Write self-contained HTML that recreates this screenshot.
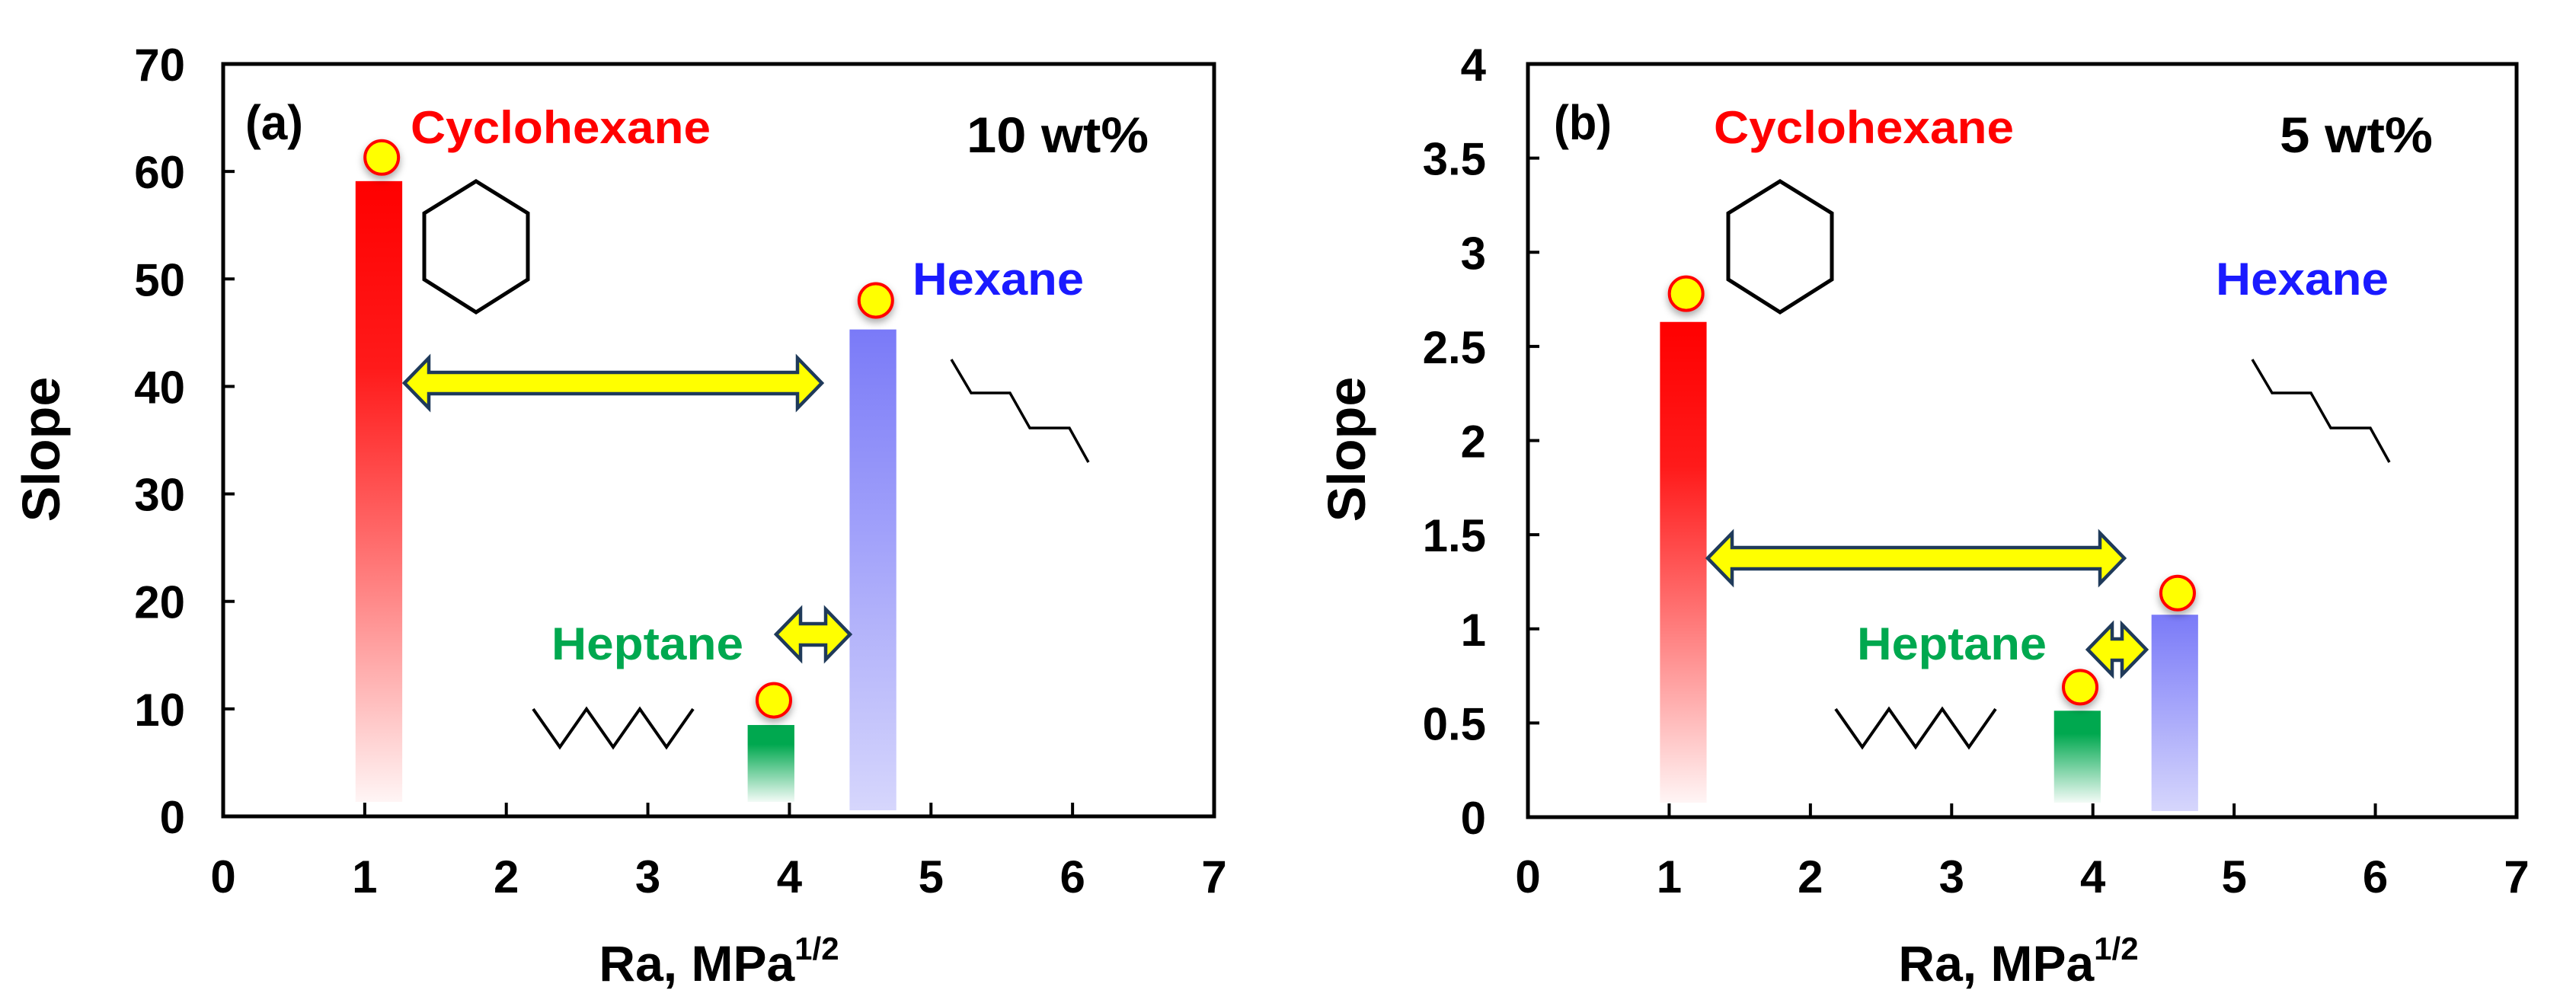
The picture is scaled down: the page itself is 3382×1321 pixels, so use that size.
<!DOCTYPE html>
<html><head><meta charset="utf-8"><style>
html,body{margin:0;padding:0;background:#fff;}
svg{display:block;font-family:"Liberation Sans",Arial,sans-serif;}
</style></head><body>
<svg id="chart" width="3382" height="1321" viewBox="0 0 3382 1321" xmlns="http://www.w3.org/2000/svg">
<defs>
<linearGradient id="gRed" x1="0" y1="0" x2="0" y2="1"><stop offset="0" stop-color="#ff0000"/><stop offset="0.3" stop-color="#ff1a1a"/><stop offset="1" stop-color="#ff0000" stop-opacity="0.04"/></linearGradient>
<linearGradient id="gGreen" x1="0" y1="0" x2="0" y2="1"><stop offset="0" stop-color="#00a84f"/><stop offset="0.25" stop-color="#00a84f"/><stop offset="1" stop-color="#00a84f" stop-opacity="0.05"/></linearGradient>
<linearGradient id="gBlue" x1="0" y1="0" x2="0" y2="1"><stop offset="0" stop-color="#7a7af8"/><stop offset="1" stop-color="#d6d6fc"/></linearGradient>
<filter id="shadow" x="-50%" y="-50%" width="200%" height="200%"><feDropShadow dx="0" dy="5" stdDeviation="5" flood-color="#000" flood-opacity="0.35"/></filter>
</defs>
</svg>
<script>
// Panel (a) data — 10 wt%
const catsA = ["Cyclohexane", "Heptane", "Hexane"];
const raA = [1.1, 3.87, 4.59];
const barA = [59.1, 8.5, 45.3];
const pointA = [61.3, 10.8, 48.0];
const yTicksA = [0, 10, 20, 30, 40, 50, 60, 70];
// Panel (b) data — 5 wt%
const catsB = ["Cyclohexane", "Heptane", "Hexane"];
const raB = [1.1, 3.89, 4.58];
const barB = [2.63, 0.565, 1.075];
const pointB = [2.78, 0.69, 1.19];
const yTicksB = [0, 0.5, 1, 1.5, 2, 2.5, 3, 3.5, 4];
const xTicks = [0, 1, 2, 3, 4, 5, 6, 7];

const NS = "http://www.w3.org/2000/svg";
const svg = document.getElementById("chart");
function mk(tag, attrs, parent, text) {
  const e = document.createElementNS(NS, tag);
  for (const k in attrs) e.setAttribute(k, attrs[k]);
  if (text !== undefined) e.textContent = text;
  (parent || svg).appendChild(e);
  return e;
}
const fills = ["url(#gRed)", "url(#gGreen)", "url(#gBlue)"];
const labelColors = ["#ff0000", "#00a84f", "#1a1aff"];

function panel(p) {
  const g = mk("g", {});
  
  
  const X = v => p.x0 + (v - 0) / 7 * (p.x1 - p.x0);
  const Y = v => p.y0 - v / p.ymax * (p.y0 - p.y1);
  p.ra.forEach((r, i) => {
    const w = 0.33 * (p.x1 - p.x0) / 7;
    const bottom = i === 2 ? p.y0 - 8 : p.y0 - 19;
    const b = mk("rect", {x: X(r) - w / 2, y: Y(p.bar[i]), width: w, height: bottom - Y(p.bar[i]), fill: fills[i]}, g);
    
    
  });
  p.ra.forEach((r, i) => {
    const c = mk("circle", {cx: X(r + 0.02), cy: Y(p.pt[i]), r: 22, fill: "#ffff00", stroke: "#ff0000", "stroke-width": 4, filter: "url(#shadow)"}, g);
    
    
  });
  const fr = mk("rect", {x: p.x0, y: p.y1, width: p.x1 - p.x0, height: p.y0 - p.y1, fill: "none", stroke: "#000", "stroke-width": 5}, g);
  
  
  p.yt.forEach(t => {
    const y = Y(t);
    if (t > 0 && t < p.ymax) {
      const tk = mk("line", {x1: p.x0, x2: p.x0 + 15, y1: y, y2: y, stroke: "#000", "stroke-width": 4}, g);
      
      
    }
    const tl = mk("text", {x: p.ylx, y: y + 22, "text-anchor": "end", "font-size": 60, "font-weight": "bold"}, g, String(t));
    
    
  });
  xTicks.forEach(t => {
    const x = X(t);
    if (t > 0 && t < 7) {
      const tk = mk("line", {x1: x, x2: x, y1: p.y0, y2: p.y0 - 18, stroke: "#000", "stroke-width": 4}, g);
      
      
    }
    const tl = mk("text", {x: x, y: 1172, "text-anchor": "middle", "font-size": 60, "font-weight": "bold"}, g, String(t));
    
    
  });
  const yt = mk("text", {x: 0, y: 0, transform: `translate(${p.ytx},590) rotate(-90)`, "text-anchor": "middle", "font-size": 70, "font-weight": "bold"}, g, "Slope");
  
  
  const xt = mk("text", {x: p.xtx, y: 1288, "text-anchor": "middle", "font-size": 66, "font-weight": "bold"}, g);
  
  
  mk("tspan", {}, xt, "Ra, MPa");
  mk("tspan", {dy: -28, "font-size": 42}, xt, "1/2");
  const lab = (txt, x, y, w, fs, col, name, weight) => {
    const t = mk("text", {x: x, y: y, "font-size": fs, "font-weight": weight || "bold", fill: col, textLength: w, lengthAdjust: "spacingAndGlyphs"}, g, txt);
    
    
  };
  lab(p.tag, p.tagx, 183, 76, 64, "#000", 'panel-label', 'bold');
  lab("Cyclohexane", p.cyx, 188, 394, 60, labelColors[0], 'label-cyclohexane');
  lab(p.wt, p.wtx, 200, p.wtw, 66, "#000", 'concentration-label');
  lab("Hexane", p.hxx, 387, p.hxw, 60, labelColors[2], 'label-hexane');
  lab("Heptane", p.hpx, 866, p.hpw, 60, labelColors[1], 'label-heptane');
  const cx = p.hexcx;
  const hex = mk("polygon", {points: `${cx},238 ${cx+68},280 ${cx+68},367 ${cx},410 ${cx-68},367 ${cx-68},280`, fill: "none", stroke: "#000", "stroke-width": 5}, g);
  
  
  const zx = p.zzx;
  let pts = [];
  for (let i = 0; i < 7; i++) pts.push(`${zx + i * 35},${i % 2 ? 981 : 931}`);
  const zz = mk("polyline", {points: pts.join(" "), fill: "none", stroke: "#000", "stroke-width": 4}, g);
  
  
  const hx = p.chx;
  const ch = mk("polyline", {points: `${hx},472 ${hx+26},516 ${hx+77},516 ${hx+103},562 ${hx+155},562 ${hx+180},607`, fill: "none", stroke: "#000", "stroke-width": 3.5}, g);
  
  
  const arrow = (x1, x2, yc, name) => {
    const hl = 32, hh = 33, sh = 14;
    const d = `M${x1},${yc} L${x1+hl},${yc-hh} L${x1+hl},${yc-sh} L${x2-hl},${yc-sh} L${x2-hl},${yc-hh} L${x2},${yc} L${x2-hl},${yc+hh} L${x2-hl},${yc+sh} L${x1+hl},${yc+sh} L${x1+hl},${yc+hh} Z`;
    const a = mk("path", {d: d, fill: "#ffff00", stroke: "#1f3a5a", "stroke-width": 4.5, "stroke-linejoin": "miter"}, g);
    
    
  };
  arrow(p.a1[0], p.a1[1], p.a1[2], 'gap-arrow-large');
  arrow(p.a2[0], p.a2[1], p.a2[2], 'gap-arrow-small');
}

panel({id: "panel-a", x0: 293, x1: 1594, y0: 1072, y1: 84, ymax: 70, cats: catsA, ra: raA, bar: barA, pt: pointA, yt: yTicksA,
  ylx: 243, ytx: 78, xtx: 944, tag: "(a)", tagx: 322, cyx: 539, wt: "10 wt%", wtx: 1269, wtw: 239,
  hxx: 1198, hxw: 225, hpx: 724, hpw: 252, hexcx: 625, zzx: 700, chx: 1249,
  a1: [531, 1079, 503], a2: [1019, 1116, 833]});
panel({id: "panel-b", x0: 2006, x1: 3304, y0: 1073, y1: 84, ymax: 4, cats: catsB, ra: raB, bar: barB, pt: pointB, yt: yTicksB,
  ylx: 1951, ytx: 1792, xtx: 2650, tag: "(b)", tagx: 2040, cyx: 2250, wt: "5 wt%", wtx: 2993, wtw: 201,
  hxx: 2909, hxw: 227, hpx: 2438, hpw: 249, hexcx: 2337, zzx: 2410, chx: 2957,
  a1: [2242, 2789, 733], a2: [2741, 2818, 853]});
</script>
</body></html>
